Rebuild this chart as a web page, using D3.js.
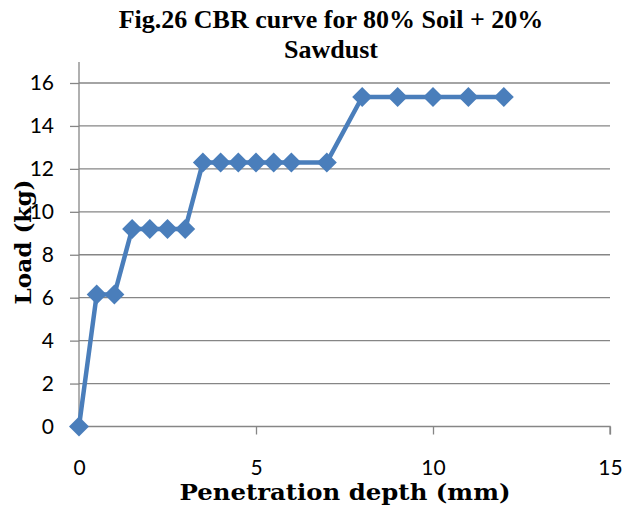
<!DOCTYPE html>
<html>
<head>
<meta charset="utf-8">
<script src="https://cdn.jsdelivr.net/npm/d3@7"></script>
<style>
  body { margin: 0; background: #fff; }
</style>
</head>
<body>
<svg width="624" height="506"></svg>
<script>
// penetration depth (mm) and load (kg)
const depth = [0, 0.5, 1, 1.5, 2, 2.5, 3, 3.5, 4, 4.5, 5, 5.5, 6, 7, 8, 9, 10, 11, 12];
const load = [0, 6.15, 6.15, 9.2, 9.2, 9.2, 9.2, 12.3, 12.3, 12.3, 12.3, 12.3, 12.3, 12.3, 15.35, 15.35, 15.35, 15.35, 15.35];
const xTicks = [0, 5, 10, 15];
const yTicks = [0, 2, 4, 6, 8, 10, 12, 14, 16];

const svg = d3.select("svg");
const plotL = 79, plotR = 610, plotT = 62, plotB = 426.5;

const x = d3.scaleLinear().domain([0, 15]).range([plotL, plotR]);
const y = d3.scaleLinear().domain([0, 16]).range([plotB, 83]);

const grey = "#868686";

// gridlines
svg.append("g")
  .selectAll("line")
  .data(yTicks.slice(1))
  .join("line")
  .attr("x1", plotL).attr("x2", plotR)
  .attr("y1", d => y(d)).attr("y2", d => y(d))
  .attr("stroke", grey).attr("stroke-width", 1.3);

// y axis
let yAxis = svg.append("g")
  .attr("transform", `translate(${plotL},0)`)
  .call(d3.axisLeft(y).tickValues(yTicks).tickSize(9).tickPadding(16));
yAxis.select(".domain").remove();
yAxis.append("line").attr("x1", 0).attr("x2", 0).attr("y1", plotT).attr("y2", plotB)
  .attr("stroke", grey).attr("stroke-width", 1.3);

// x axis
let xAxis = svg.append("g")
  .attr("transform", `translate(0,${plotB})`)
  .call(d3.axisBottom(x).tickValues(xTicks).tickSize(8).tickPadding(26));
xAxis.select(".domain").attr("d", `M${plotL},0H${plotR}V8`);

svg.selectAll(".tick line").attr("stroke", grey).attr("stroke-width", 1.3);
svg.selectAll(".domain").attr("stroke", grey).attr("stroke-width", 1.3);
svg.selectAll(".tick text")
  .attr("font-family", "Lato, 'Open Sans', sans-serif")
  .attr("font-size", 21).attr("fill", "#000");
xAxis.selectAll(".tick line").filter(d => d === 0).remove();

// series
const pts = depth.map((d, i) => [d, load[i]]);
svg.append("path")
  .datum(pts)
  .attr("fill", "none")
  .attr("stroke", "#4a7ebb")
  .attr("stroke-width", 4.5)
  .attr("stroke-linejoin", "round")
  .attr("d", d3.line().x(d => x(d[0])).y(d => y(d[1])));

svg.append("g")
  .selectAll("path")
  .data(pts)
  .join("path")
  .attr("transform", d => `translate(${x(d[0])},${y(d[1])})`)
  .attr("d", "M0,-10L10,0L0,10L-10,0Z")
  .attr("fill", "#4a7ebb");

// title
const title = svg.append("text")
  .attr("text-anchor", "middle")
  .attr("font-family", "'Liberation Serif', 'Times New Roman', serif")
  .attr("font-weight", "bold")
  .attr("font-size", 26);
title.append("tspan").attr("x", 331).attr("y", 28).text("Fig.26 CBR curve for 80% Soil + 20%");
title.append("tspan").attr("x", 331).attr("y", 58).text("Sawdust");

// axis titles
svg.append("text")
  .attr("x", 345).attr("y", 500)
  .attr("text-anchor", "middle")
  .attr("font-family", "'DejaVu Serif', serif")
  .attr("font-weight", "bold")
  .attr("font-size", 22)
  .attr("textLength", 331)
  .attr("lengthAdjust", "spacingAndGlyphs")
  .text("Penetration depth (mm)");

svg.append("text")
  .attr("transform", "translate(31,242) rotate(-90)")
  .attr("text-anchor", "middle")
  .attr("font-family", "'DejaVu Serif', serif")
  .attr("font-weight", "bold")
  .attr("font-size", 22)
  .attr("textLength", 125)
  .attr("lengthAdjust", "spacingAndGlyphs")
  .text("Load (kg)");
</script>
</body>
</html>
